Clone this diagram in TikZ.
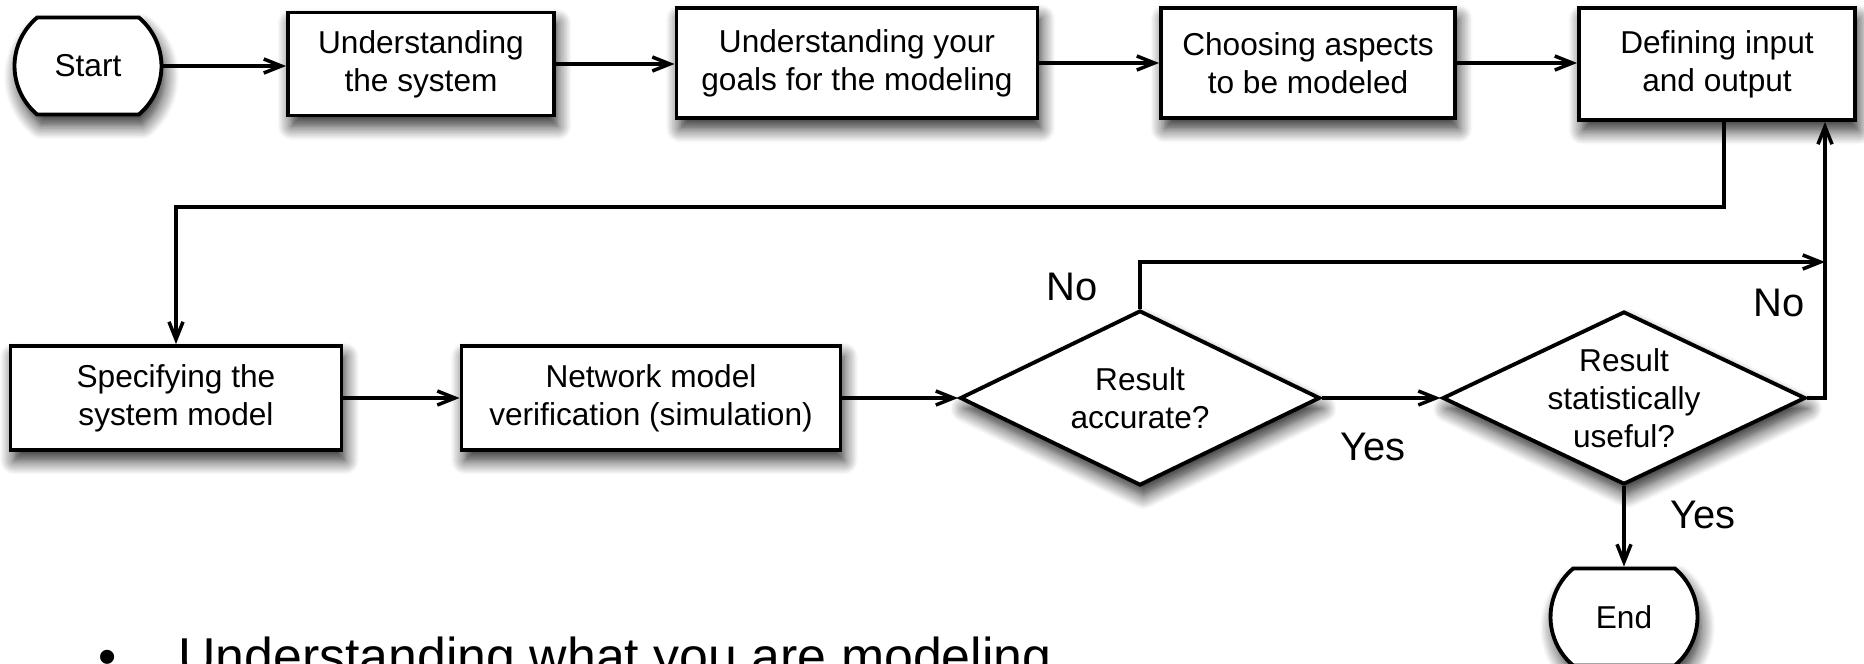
\documentclass[tikz,border=0pt]{standalone}
\usepackage{fontspec}
\setmainfont{Liberation Sans}
\usetikzlibrary{shapes.geometric,shapes.misc,arrows.meta,shadows.blur}

\tikzset{
  base/.style={draw, line width=2.2pt, fill=white, align=center, inner sep=2pt,
    font=\fontsize{18}{21.5}\selectfont,
    blur shadow={shadow xshift=2pt, shadow yshift=-6pt, shadow blur radius=8pt,
      shadow blur steps=10, shadow opacity=85}},
  process/.style={base, rectangle},
  terminal/.style={base, rounded rectangle, rounded rectangle arc length=100},
  decision/.style={base, diamond, inner sep=0pt},
  question/.style={align=center, inner sep=0pt, font=\fontsize{18}{21.5}\selectfont},
  flow/.style={line width=2pt, -{Straight Barb[length=10pt,width=8pt,line width=2pt]}},
  answer/.style={font=\fontsize{22.7}{26}\selectfont, inner sep=0pt},
}

\begin{document}
\begin{tikzpicture}[x=0.2mm, y=-0.2mm]
  \clip (0,0) rectangle (1864,663);

  % top row
  \node[terminal, minimum width=3.08cm, minimum height=1.94cm] (start) at (88,66) {Start};
  \node[process, minimum width=5.32cm, minimum height=2.06cm] (box1) at (421,64) {Understanding\\the system};
  \node[process, minimum width=7.22cm, minimum height=2.2cm] (box2) at (857,63) {Understanding your\\goals for the modeling};
  \node[process, minimum width=5.88cm, minimum height=2.2cm] (box3) at (1308,63) {Choosing aspects\\to be modeled};
  \node[process, minimum width=5.52cm, minimum height=2.24cm] (box4) at (1717,64) {Defining input\\and output};

  % second row
  \node[process, minimum width=6.62cm, minimum height=2.08cm] (box5) at (176,398) {Specifying the\\system model};
  \node[process, minimum width=7.58cm, minimum height=2.08cm] (box6) at (651,398) {Network model\\verification (simulation)};
  \node[decision, minimum width=7.2cm, minimum height=3.5cm] (d1) at (1140,398) {};
  \node[question] (q1) at (d1) {Result\\accurate?};
  \node[decision, minimum width=7.26cm, minimum height=3.46cm] (d2) at (1624,398) {};
  \node[question] (q2) at (d2) {Result\\statistically\\useful?};
  \node[terminal, minimum width=3.08cm, minimum height=1.94cm] (end) at (1624,617) {End};

  % answers
  \node[answer] (no1) at (1072,287) {No};
  \node[answer] (no2) at (1779,303) {No};
  \node[answer] (yes1) at (1373,447) {Yes};
  \node[answer] (yes2) at (1703,515) {Yes};

  % connectors
  \foreach \a/\b in {start/box1, box1/box2, box2/box3, box3/box4}
    \draw[flow] (\a.east) -- (\a.east -| \b.west);
  \coordinate (split) at (1724,207);
  \draw[flow] (split |- box4.south) -- (split) -| (box5.north);
  \draw[flow] (box5) -- (box6);
  \draw[flow] (box6) -- (d1);
  \draw[flow] (d1) -- (d2);
  \coordinate (loop) at (1825,398);
  \coordinate (retop) at (1825,262);
  \draw[flow] (d2.east) -- (loop) -- (loop |- box4.south);
  \draw[flow] (d1.north) |- (retop);
  \draw[flow] (d2.south) -- (end.north);

  % bullet text
  \node[font=\fontsize{29.5}{34}\selectfont, inner sep=0pt, anchor=base] (bullet) at (108,674) {•};
  \node[font=\fontsize{29.5}{34}\selectfont, inner sep=0pt, anchor=base west] (note) at (178,674) {Understanding what you are modeling};
\end{tikzpicture}
\end{document}
